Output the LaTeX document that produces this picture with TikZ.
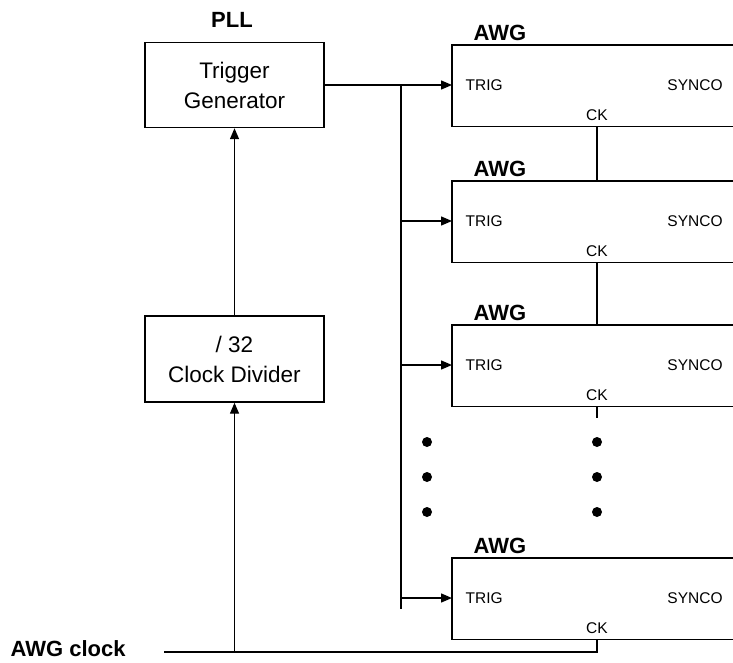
\documentclass[tikz,border=0pt]{standalone}
\usepackage{fontspec}
\setmainfont{Liberation Sans}
\usetikzlibrary{arrows.meta}
\begin{document}
\begin{tikzpicture}[x=1pt,y=-1pt, line width=1.4pt,
  blk/.style={draw, minimum width=179pt, inner sep=0pt, align=center, font=\fontsize{22.5}{30}\selectfont},
  awg/.style={minimum width=281pt, minimum height=80pt, inner sep=0pt, anchor=north west},
  lbl/.style={font=\bfseries\fontsize{22}{26}\selectfont, inner sep=0pt},
  port/.style={font=\fontsize{15.5}{18}\selectfont, inner sep=0pt},
  arr/.style={-{Triangle[length=11pt,width=9pt]}},
  dotnode/.style={circle, fill, inner sep=0pt, minimum size=10pt}]
\useasboundingbox (0,0) rectangle (733,662);
\node[blk, minimum height=85pt] (tg) at (234.5,85) {Trigger\\Generator};
\node[blk, minimum height=86pt] (cd) at (234.5,359) {/ 32\\Clock Divider};
\node[lbl] (pll) at (232,20) {PLL};
\coordinate (bx) at (401,0);
\coordinate (ckx) at (597,0);
\foreach \i/\t in {1/45,2/181,3/325,4/558}{
  \node[awg] (a\i) at (452,\t) {};
  \draw (a\i.north east) -- (a\i.north west) -- (a\i.south west) -- (a\i.south east);
  \node[lbl] (al\i) at (500,\t-12) {AWG};
  \coordinate (in\i) at (452,\t+40);
  \node[port, anchor=west] (trig\i) at (465,\t+40) {TRIG};
  \node[port] (sync\i) at (695,\t+40) {SYNCO};
  \node[port] (ck\i) at (597,\t+70) {CK};
}
\draw[arr] (tg.east) -- (tg.east -| a1.west);
\coordinate (busb) at (401,609);
\draw (tg.east -| bx) -- (busb);
\foreach \i in {2,3,4}{
  \draw[arr] (in\i -| bx) -- (in\i);
}
\draw (a1.south -| ckx) -- (a2.north -| ckx);
\draw (a2.south -| ckx) -- (a3.north -| ckx);
\coordinate (stub) at (597,418);
\draw (a3.south -| ckx) -- (stub);
\node[lbl, anchor=west] (clk) at (10,649) {AWG clock};
\coordinate (cs) at (164,652);
\draw (cs) -- (cs -| ckx) -- (a4.south -| ckx);
\draw[arr] (cs -| cd) -- (cd.south);
\draw[arr] (cd.north) -- (tg.south);
\foreach \y in {442,477,512}{
  \node[dotnode] (dl\y) at (427,\y) {};
  \node[dotnode] (dr\y) at (597,\y) {};
}
\end{tikzpicture}
\end{document}
